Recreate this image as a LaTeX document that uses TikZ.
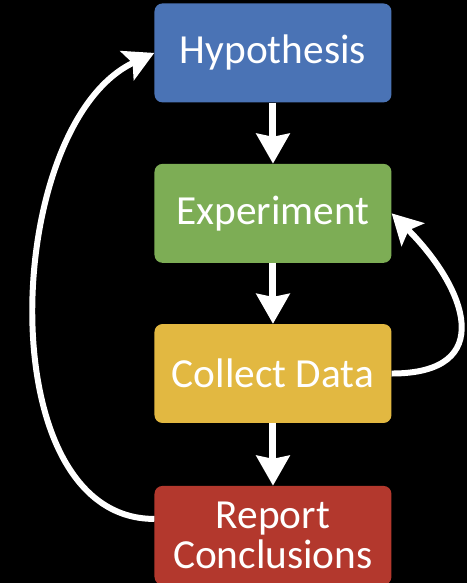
\documentclass[tikz,border=0pt]{standalone}
\usepackage{fontspec}
\setsansfont{Carlito}
\usepackage{tikz}
\usetikzlibrary{arrows.meta, positioning}
\definecolor{HypBlue}{HTML}{4A73B5}
\definecolor{ExpGreen}{HTML}{7DAD55}
\definecolor{DataYellow}{HTML}{E2B841}
\definecolor{ReportRed}{HTML}{B3382D}
\tikzset{
  stagebox/.style={rectangle, rounded corners=8pt, minimum width=8.36cm, minimum height=3.49cm, inner sep=0pt, font=\sffamily\fontsize{41.5}{40}\selectfont, text=white, align=center},
  arrow/.style={-{Stealth[length=30pt, width=33pt, inset=3pt]}, line width=7pt, white},
  looparrow/.style={-{Stealth[length=30pt, width=32pt, inset=6pt]}, line width=6pt, white}
}

\begin{document}
\begin{tikzpicture}
  % Background
  \fill[black] (0,0) rectangle (16.475,20.567);
  \useasboundingbox (0,0) rectangle (16.475,20.567);

  % Stages
  \node[stagebox, fill=HypBlue] (hyp) at (9.63,18.70) {Hypothesis};
  \node[stagebox, fill=ExpGreen] (exp) at (9.63,13.04) {Experiment};
  \node[stagebox, fill=DataYellow] (data) at (9.63,7.39) {Collect Data};
  \node[stagebox, fill=ReportRed] (report) at (9.63,1.68) {Report\\Conclusions};

  % Flow
  \draw[arrow] (hyp) -- (exp);
  \draw[arrow] (exp) -- (data);
  \draw[arrow] (data) -- (report);

  % Loops
  \draw[looparrow] (data.east) to[out=0, in=-45, looseness=1.7] (exp.east);
  \draw[looparrow] ([yshift=0.58cm]report.west) to[out=180, in=205, looseness=0.92] (hyp.west);
\end{tikzpicture}
\end{document}
